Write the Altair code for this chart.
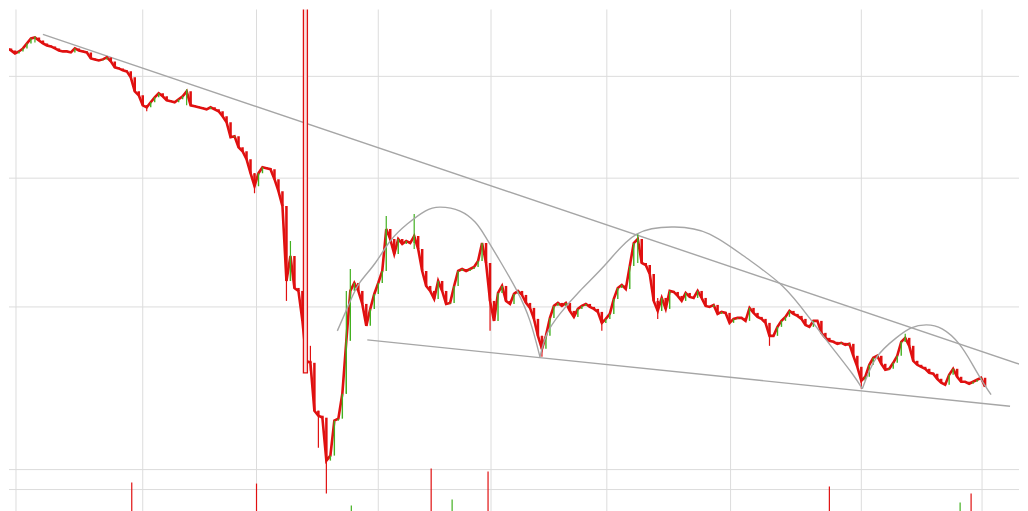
import altair as alt
import pandas as pd

# ---- price closes (one candle every bar index) ----
close = [459, 464, 462, 459, 461, 464, 469, 474, 475, 472,
         469, 467, 466, 464, 462, 461, 461, 460, 464, 462,
         461, 460, 454, 453, 452, 453, 455, 451, 445, 444,
         442, 441, 435, 421, 417, 407, 405, 410, 415, 419,
         416, 412, 411, 410, 413, 416, 421, 407, 406, 405,
         404, 403, 405, 403, 401, 396, 390, 375, 376, 365,
         361, 353, 339, 326, 339, 345, 344, 343, 333, 321,
         306, 231, 256, 224, 221, 191, 151, 149, 101, 96,
         94, 51, 56, 91, 93, 118, 171, 221, 229, 221,
         208, 186, 203, 218, 229, 241, 283, 273, 258, 273,
         268, 271, 269, 276, 263, 241, 226, 221, 213, 231,
         221, 208, 209, 226, 241, 243, 241, 243, 245, 251,
         269, 249, 211, 191, 219, 226, 211, 208, 218, 221,
         217, 209, 204, 193, 176, 163, 176, 194, 206, 209,
         206, 209, 201, 195, 203, 206, 208, 205, 203, 200,
         189, 193, 198, 213, 224, 227, 223, 246, 269, 273,
         249, 247, 238, 211, 201, 214, 203, 221, 220, 216,
         211, 219, 215, 214, 221, 214, 206, 205, 207, 198,
         200, 199, 189, 193, 194, 194, 191, 204, 199, 195,
         193, 189, 176, 176, 185, 191, 195, 201, 198, 196,
         193, 187, 185, 191, 191, 179, 174, 171, 170, 168,
         169, 167, 168, 156, 145, 131, 135, 147, 154, 156,
         148, 142, 143, 149, 156, 170, 174, 166, 151, 147,
         145, 143, 139, 138, 133, 129, 127, 137, 143, 135,
         130, 130, 128, 130, 132, 134, 125]

# notable wicks: bar index, high, low
wick_index = [8, 36, 46, 63, 71, 72, 77, 79, 81, 86, 87, 96, 103, 122, 135,
              150, 159, 164, 192, 215, 226]
wick_high = [476, 407, 423, 339, 306, 271, 166, 101, 56, 221, 243, 296, 298, 249, 176,
             193, 278, 214, 185, 135, 178]
wick_low = [470, 401, 407, 319, 211, 231, 141, 64, 18, 118, 221, 273, 263, 181, 155,
            181, 249, 193, 166, 123, 170]

# the single huge spike candle
spike_index = [75.25]
spike_index2 = [76.25]
spike_high = [520]
spike_low = [139]

# volume spikes
vol_index = [32.25, 63.5, 87.25, 107.25, 112.5, 121.5, 207, 239.75, 242.5]
vol_value = [29, 28, 6, 43, 12, 40, 25, 9, 18]
vol_dir = ["down", "down", "up", "down", "up", "down", "down", "up", "down"]

# grid positions
grid_x = [3.25, 35, 63.5, 94, 122.25, 151.25, 182.25, 215, 245.25]
grid_y = [436, 334, 205, 42, 22]

# trend lines (bar index, price)
upper_i = [10, 256.5]
upper_p = [478, 145]
lower_i = [91.25, 252.25]
lower_p = [172, 105.5]

# arcs
arc1_i = [83.75, 87, 89.5, 93.25, 97, 101.25, 105.75, 109.5, 114.5, 118.25, 120.75, 124.5, 128.75, 132, 134.5]
arc1_p = [181, 211, 230, 249, 271, 288, 301, 305, 301, 290, 276, 251, 221, 191, 155]
arc2_i = [134.5, 136.25, 139.5, 144.5, 151.25, 158.75, 168.25, 177, 186.25, 195.25, 202, 207.75, 212.75, 215.25]
arc2_p = [155, 178, 198, 221, 249, 278, 285, 278, 254, 226, 194, 164, 138, 123]
arc3_i = [215.25, 218.75, 223.75, 227.5, 231.25, 235.25, 239.5, 242.75, 245.25, 247.5]
arc3_p = [123, 154, 174, 184, 187, 183, 168, 148, 131, 117]

RED = "#e01010"
GREEN = "#42b020"
LINE = "#a6a6a6"
GRID = "#dcdcdc"

opens = [close[0]] + close[:-1]
candles = pd.DataFrame({
    "i": list(range(len(close))),
    "o": opens,
    "c": close,
})
candles["dir"] = ["up" if c > o else "down" for o, c in zip(opens, close)]

wicks = pd.DataFrame({"i": wick_index, "h": wick_high, "l": wick_low})
wicks["dir"] = [candles.loc[k, "dir"] for k in wick_index]

XS = alt.Scale(domain=[1.5, 254.5], nice=False, zero=False, padding=0)
YS = alt.Scale(domain=[0, 503], nice=False, zero=False, padding=0)
col = alt.Color("dir:N", scale=alt.Scale(domain=["down", "up"], range=[RED, GREEN]), legend=None)

gx = alt.Chart(pd.DataFrame({"i": grid_x})).mark_rule(color=GRID, strokeWidth=1).encode(
    x=alt.X("i:Q", scale=XS, axis=None))
gy = alt.Chart(pd.DataFrame({"p": grid_y})).mark_rule(color=GRID, strokeWidth=1).encode(
    y=alt.Y("p:Q", scale=YS, axis=None))

vol = alt.Chart(pd.DataFrame({"i": vol_index, "v": vol_value, "dir": vol_dir})).mark_rule(
    strokeWidth=1.2, clip=True).encode(
    x=alt.X("i:Q", scale=XS, axis=None),
    y=alt.Y("v:Q", scale=alt.Scale(domain=[0, 100], range=[503, 403], nice=False, zero=True), axis=None),
    y2=alt.datum(0),
    color=col)

band = alt.Chart(candles).mark_line(color=RED, strokeWidth=2.6, clip=True).encode(
    x=alt.X("i:Q", scale=XS, axis=None),
    y=alt.Y("c:Q", scale=YS, axis=None))

wick_layer = alt.Chart(wicks).mark_rule(strokeWidth=1.2, clip=True).encode(
    x=alt.X("i:Q", scale=XS, axis=None),
    y=alt.Y("h:Q", scale=YS, axis=None),
    y2="l:Q",
    color=col)

body_down = alt.Chart(candles).transform_filter(alt.datum.dir == "down").mark_bar(
    size=2.5, clip=True, color=RED).encode(
    x=alt.X("i:Q", scale=XS, axis=None),
    y=alt.Y("o:Q", scale=YS, axis=None),
    y2="c:Q")

body_up = alt.Chart(candles).transform_filter(alt.datum.dir == "up").mark_bar(
    size=1.4, clip=True, color=GREEN).encode(
    x=alt.X("i:Q", scale=XS, axis=None),
    y=alt.Y("o:Q", scale=YS, axis=None),
    y2="c:Q")

spike = alt.Chart(pd.DataFrame({"i": spike_index, "i2": spike_index2, "h": spike_high, "l": spike_low})).mark_rect(
    fill="#f9e2e2", stroke=RED, strokeWidth=1.3, clip=True).encode(
    x=alt.X("i:Q", scale=XS, axis=None), x2="i2:Q",
    y=alt.Y("h:Q", scale=YS, axis=None), y2="l:Q")

def poly(xs, ys, interp="linear"):
    return alt.Chart(pd.DataFrame({"i": xs, "p": ys, "k": list(range(len(xs)))})).mark_line(
        color=LINE, strokeWidth=1.4, clip=True, interpolate=interp).encode(
        x=alt.X("i:Q", scale=XS, axis=None),
        y=alt.Y("p:Q", scale=YS, axis=None),
        order="k:Q")

chart = alt.layer(
    gx, gy, vol,
    poly(upper_i, upper_p), poly(lower_i, lower_p),
    band, wick_layer, body_down, body_up, spike,
    poly(arc1_i, arc1_p, "natural"), poly(arc2_i, arc2_p, "natural"), poly(arc3_i, arc3_p, "natural"),
).resolve_scale(y="independent").properties(
    width=1012, height=503,
    padding={"top": 0, "left": 0, "right": 0, "bottom": 0}
).configure_view(stroke=None)

chart.save("out.html", embed_options={"renderer": "svg", "actions": False})
